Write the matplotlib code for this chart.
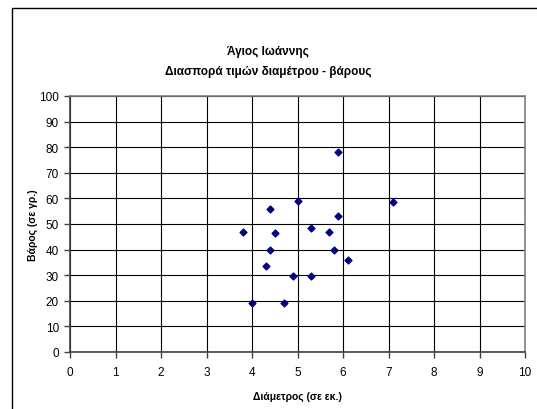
import matplotlib.pyplot as plt
from matplotlib.patches import Rectangle

plt.rcParams['font.family'] = ['Liberation Sans', 'DejaVu Sans']

# diameter (cm) and weight (g) values
diameter = [5.9, 5.0, 7.1, 4.4, 5.9, 3.8, 4.5, 5.3, 5.7, 4.4, 5.8, 6.1, 4.3, 4.9, 5.3, 4.0, 4.7]
weight = [78, 59, 58.5, 56, 53, 47, 46.5, 48.5, 47, 40, 40, 36, 33.5, 29.5, 29.5, 19, 19]

title = 'Άγιος Ιωάννης\nΔιασπορά τιμών διαμέτρου - βάρους'
xlabel = 'Διάμετρος (σε εκ.)'
ylabel = 'Βάρος (σε γρ.)'

fig = plt.figure(figsize=(5.37, 4.10), dpi=100)

# outer chart frame
fig.patches.append(Rectangle((12 / 537, -0.1), 1.2, 1 - 9 / 410 + 0.1,
                             transform=fig.transFigure, fill=False,
                             edgecolor='black', linewidth=1.0))

ax = fig.add_axes([70 / 537, 57 / 410, 455 / 537, 256 / 410])
ax.scatter(diameter, weight, marker='D', s=12, color='#000080', zorder=3)

ax.set_xlim(0, 10)
ax.set_ylim(0, 100)
ax.set_xticks(range(0, 11))
ax.set_yticks(range(0, 101, 10))
ax.grid(True, color='black', linewidth=0.8)
ax.set_axisbelow(True)

for side in ['top', 'right']:
    ax.spines[side].set_color('#808080')
    ax.spines[side].set_linewidth(1.2)
for side in ['left', 'bottom']:
    ax.spines[side].set_color('#404040')
    ax.spines[side].set_linewidth(1.2)

ax.tick_params(direction='out', length=4, width=1, color='#404040',
               labelsize=8.5)
ax.tick_params(axis='x', pad=6)
ax.tick_params(axis='y', pad=4)

ax.set_xlabel(xlabel, fontsize=7.5, fontweight='bold', va='center')
ax.set_ylabel(ylabel, fontsize=7.5, fontweight='bold', va='center')
ax.xaxis.set_label_coords(0.5, -44 / 256)
ax.yaxis.set_label_coords(-37 / 455, 0.5)

fig.text(268 / 537, 1 - 62 / 410, title, ha='center', va='center',
         fontsize=8.5, fontweight='bold', linespacing=1.9)

fig.savefig('out.png', dpi=100)
